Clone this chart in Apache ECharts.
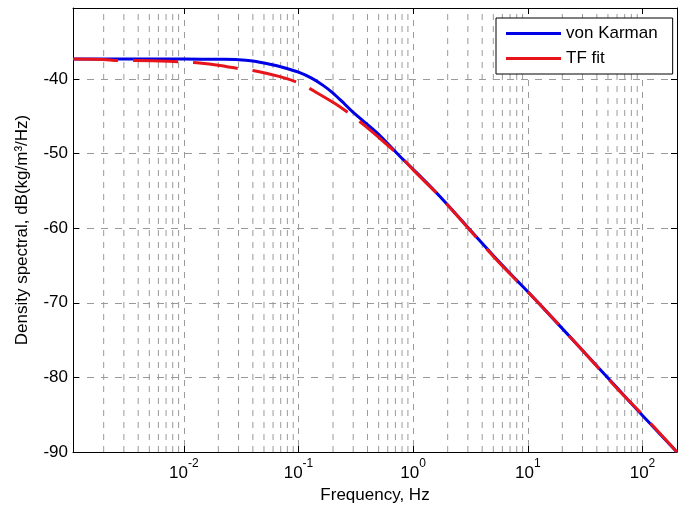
<!DOCTYPE html>
<html>
<head>
<meta charset="utf-8">
<script src="https://cdn.jsdelivr.net/npm/echarts@6/dist/echarts.min.js"></script>
<style>html,body{margin:0;padding:0;background:#fff;}#c{width:690px;height:506px;}</style>
</head>
<body>
<div id="c"></div>
<script>
const freqKarman = [0.00108, 0.005, 0.01, 0.02, 0.03, 0.04, 0.055, 0.075, 0.1, 0.13, 0.165, 0.2, 0.25, 0.3, 0.482, 0.769, 1.077, 1.72, 5.38, 12.0, 26.9, 60, 100, 194, 200];
const dbKarman   = [-37.35, -37.35, -37.35, -37.38, -37.42, -37.6, -38.0, -38.5, -39.1, -39.9, -40.9, -41.9, -43.3, -44.5, -47.2, -50.4, -52.6, -55.8, -64.2, -69.8, -75.6, -81.4, -85.1, -89.8, -90.0];
const freqFit = [0.00108, 0.002, 0.00265, 0.00373, 0.00617, 0.00923, 0.013, 0.0206, 0.0321, 0.0443, 0.0689, 0.103, 0.139, 0.208, 0.299, 0.381, 0.515, 0.797, 1.077, 1.72, 5.38, 12.0, 26.9, 60, 100, 200];
const dbFit   = [-37.35, -37.4, -37.55, -37.55, -37.6, -37.7, -37.85, -38.2, -38.7, -39.0, -39.7, -40.6, -41.7, -43.3, -45.0, -46.3, -48.0, -50.6, -52.7, -55.8, -64.3, -69.8, -75.6, -81.5, -85.0, -90.0];
const xTickLabels = {'-2':'-2','-1':'-1','0':'0','1':'1','2':'2'};
const yTicks = [-90, -80, -70, -60, -50, -40];
const seriesNames = ['von Karman', 'TF fit'];

const xMin = 0.00108, xMax = 200, yMin = -90, yMax = -30.5;
const minorGrid = [];
for (let k = -3; k <= 2; k++) {
  for (let m = 2; m <= 9; m++) {
    const v = m * Math.pow(10, k);
    if (v > xMin && v < xMax) {
      minorGrid.push([v, yMin], [v, yMax], [v, null]);
    }
  }
}
const zip = (a, b) => a.map((v, i) => [v, b[i]]);
const FONT = 'Liberation Sans, Arial, sans-serif';
const FS = 17;
const gridDash = [6, 6];
const gridColor = '#9a9a9a';

const chart = echarts.init(document.getElementById('c'));
chart.setOption({
  animation: false,
  backgroundColor: '#fff',
  textStyle: {fontFamily: FONT},
  grid: {left: 73, top: 8, right: 13, bottom: 54, containLabel: false, outerBoundsMode: 'none'},
  legend: {
    data: seriesNames,
    left: 496, top: 18, orient: 'vertical',
    backgroundColor: '#fff', borderColor: '#000', borderWidth: 1,
    padding: [7, 15, 7, 10], itemGap: 8,
    icon: 'rect', itemWidth: 55, itemHeight: 3,
    textStyle: {fontSize: FS, color: '#000', fontFamily: FONT}
  },
  xAxis: [{
    type: 'log', logBase: 10, min: xMin, max: xMax,
    name: 'Frequency, Hz', nameLocation: 'middle', nameGap: 30,
    nameTextStyle: {fontSize: FS, color: '#000', fontFamily: FONT},
    axisLine: {show: true, onZero: false, lineStyle: {color: '#000', width: 1}},
    axisTick: {show: true, inside: true, length: 6, lineStyle: {color: '#000'}},
    axisLabel: {
      show: true, color: '#000', margin: 6, showMinLabel: false, showMaxLabel: false,
      formatter: function (v) {
        const e = Math.round(Math.log10(v));
        if (Math.abs(Math.log10(v) - e) > 1e-6) return '';
        const key = String(e);
        if (!(key in xTickLabels)) return '';
        return '{b|10}{s|' + xTickLabels[key] + '}';
      },
      rich: {
        b: {fontSize: FS, color: '#000', fontFamily: FONT, lineHeight: 24, verticalAlign: 'bottom'},
        s: {fontSize: 12, color: '#000', fontFamily: FONT, lineHeight: 24, verticalAlign: 'top'}
      }
    },
    splitLine: {show: true, lineStyle: {color: gridColor, type: gridDash, width: 1}}
  }, {
    type: 'log', logBase: 10, min: xMin, max: xMax, position: 'top',
    axisLine: {show: true, onZero: false, lineStyle: {color: '#000', width: 1}},
    axisTick: {show: true, inside: true, length: 6, lineStyle: {color: '#000'}},
    axisLabel: {show: false}, splitLine: {show: false}
  }],
  yAxis: [{
    type: 'value', min: yMin, max: yMax, interval: 10,
    name: 'Density spectral, dB(kg/m³/Hz)', nameLocation: 'middle', nameGap: 42, nameRotate: 90,
    nameTextStyle: {fontSize: FS, color: '#000', fontFamily: FONT},
    axisLine: {show: true, onZero: false, lineStyle: {color: '#000', width: 1}},
    axisTick: {show: true, inside: true, length: 6, lineStyle: {color: '#000'}},
    axisLabel: {
      show: true, color: '#000', fontSize: FS, margin: 5, showMaxLabel: false,
      formatter: function (v) { return yTicks.indexOf(v) >= 0 ? String(v) : ''; }
    },
    splitLine: {show: true, lineStyle: {color: gridColor, type: [7, 7], width: 1}}
  }, {
    type: 'value', min: yMin, max: yMax, interval: 10, position: 'right',
    axisLine: {show: true, onZero: false, lineStyle: {color: '#000', width: 1}},
    axisTick: {show: true, inside: true, length: 6, lineStyle: {color: '#000'}},
    axisLabel: {show: false}, splitLine: {show: false}
  }],
  series: [{
    name: 'minor-grid', type: 'line', data: minorGrid, silent: true, z: 1,
    showSymbol: false, symbol: 'none', connectNulls: false,
    lineStyle: {color: gridColor, type: gridDash, width: 1},
    emphasis: {disabled: true}, tooltip: {show: false}
  }, {
    name: seriesNames[0], type: 'line', data: zip(freqKarman, dbKarman),
    showSymbol: false, symbol: 'none', smooth: 0.3, z: 3,
    lineStyle: {color: '#0000e6', width: 3}, itemStyle: {color: '#0000e6'}
  }, {
    name: seriesNames[1], type: 'line', data: zip(freqFit, dbFit),
    showSymbol: false, symbol: 'none', smooth: 0.3, z: 4,
    lineStyle: {color: '#e8141b', width: 3, type: [45, 15]}, itemStyle: {color: '#e8141b'}
  }]
});
</script>
</body>
</html>
